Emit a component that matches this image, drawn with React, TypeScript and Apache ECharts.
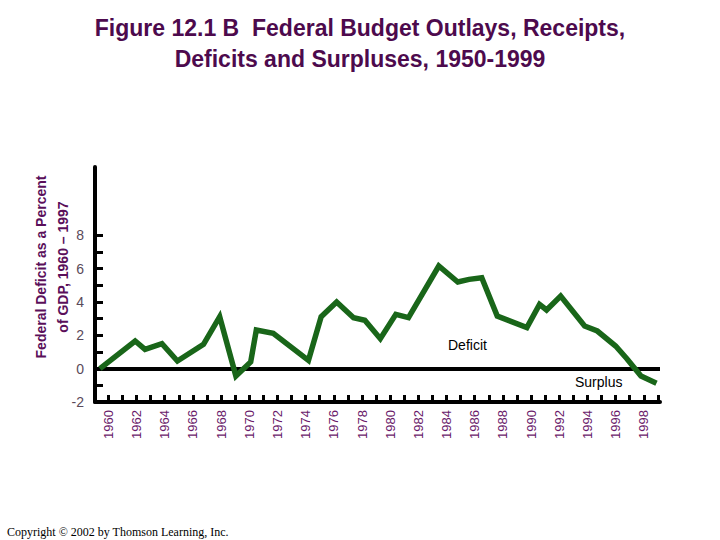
import React, { useEffect, useRef } from "react";
import * as echarts from "echarts";

// Line vertices: [year position, deficit % of GDP]
const pointYears = [
  1959.4, 1961.9, 1962.6, 1963.8, 1964.9, 1966.75, 1967.9, 1969.05, 1970.1,
  1970.5, 1971.7, 1974.2, 1975.1, 1976.2, 1977.4, 1978.2, 1979.3, 1980.4,
  1981.3, 1983.45, 1984.8, 1985.6, 1986.5, 1987.6, 1989.7, 1990.6, 1991.1,
  1992.1, 1993.8, 1994.7, 1996.0, 1996.8, 1997.8, 1998.9,
];
const deficitValues = [
  0.0, 1.66, 1.16, 1.5, 0.46, 1.46, 3.12, -0.44, 0.4,
  2.32, 2.12, 0.5, 3.12, 4.0, 3.06, 2.9, 1.8, 3.26,
  3.06, 6.16, 5.2, 5.36, 5.46, 3.16, 2.46, 3.86, 3.52,
  4.36, 2.56, 2.26, 1.36, 0.6, -0.44, -0.88,
];
const tickYears = [
  1960, 1961, 1962, 1963, 1964, 1965, 1966, 1967, 1968, 1969,
  1970, 1971, 1972, 1973, 1974, 1975, 1976, 1977, 1978, 1979,
  1980, 1981, 1982, 1983, 1984, 1985, 1986, 1987, 1988, 1989,
  1990, 1991, 1992, 1993, 1994, 1995, 1996, 1997, 1998, 1999,
];
const labelYears = [
  1960, 1962, 1964, 1966, 1968, 1970, 1972, 1974, 1976, 1978,
  1980, 1982, 1984, 1986, 1988, 1990, 1992, 1994, 1996, 1998,
];
const yTickValues = [-2, -1, 0, 1, 2, 3, 4, 5, 6, 7, 8];
const yLabelValues = [-2, 0, 2, 4, 6, 8];

const titleText =
  "Figure 12.1 B  Federal Budget Outlays, Receipts,\nDeficits and Surpluses, 1950-1999";
const yAxisTitle = "Federal Deficit as a Percent\nof GDP, 1960 \u2013 1997";
const deficitLabel = "Deficit";
const surplusLabel = "Surplus";
const copyrightText = "Copyright \u00a9 2002 by Thomson Learning, Inc.";

const SANS = "'Liberation Sans', Arial, sans-serif";
const SERIF = "'Liberation Serif', 'Times New Roman', serif";

export default function App() {
  const ref = useRef<HTMLDivElement>(null);

  useEffect(() => {
    if (!ref.current) return;
    const chart = echarts.init(ref.current, null, { renderer: "svg" });
    const data = pointYears.map((x, i) => [x, deficitValues[i]]);

    chart.setOption({
      animation: false,
      backgroundColor: "#ffffff",
      grid: { left: 95, right: 60, top: 167, bottom: 138, containLabel: false },
      xAxis: {
        type: "value",
        min: 1959.05,
        max: 1999.15,
        axisLine: { show: true, onZero: false, lineStyle: { color: "#000", width: 4 } },
        axisTick: {
          show: true,
          inside: true,
          length: 7,
          customValues: tickYears,
          lineStyle: { color: "#000", width: 3 },
        },
        axisLabel: {
          customValues: labelYears,
          rotate: 90,
          margin: 8,
          fontFamily: SANS,
          fontSize: 13,
          color: "#6a1a6a",
          formatter: (v: number) => String(v),
        },
        splitLine: { show: false },
      },
      yAxis: {
        type: "value",
        min: -2,
        max: 12.1,
        axisLine: { show: true, lineStyle: { color: "#000", width: 4 } },
        axisTick: {
          show: true,
          inside: true,
          length: 8,
          customValues: yTickValues,
          lineStyle: { color: "#000", width: 3 },
        },
        axisLabel: {
          customValues: yLabelValues,
          margin: 11,
          fontFamily: SANS,
          fontSize: 14,
          color: "#5a4a5a",
        },
        splitLine: { show: false },
      },
      series: [
        {
          type: "line",
          data,
          showSymbol: false,
          symbol: "none",
          lineStyle: { color: "#196619", width: 5.5, join: "miter" },
          z: 3,
          markLine: {
            silent: true,
            symbol: "none",
            label: { show: false },
            lineStyle: { color: "#000", width: 4, type: "solid" },
            data: [{ yAxis: 0 }],
            z: 2,
          },
        },
      ],
      graphic: [
        {
          type: "text",
          x: 360,
          y: 12,
          style: {
            text: titleText,
            font: `bold 23px ${SANS}`,
            fill: "#4d0a4d",
            textAlign: "center",
            textVerticalAlign: "top",
            lineHeight: 31,
          },
        },
        {
          type: "text",
          x: 52,
          y: 267,
          rotation: Math.PI / 2,
          style: {
            text: yAxisTitle,
            font: `bold 14px ${SANS}`,
            fill: "#5a0f5a",
            textAlign: "center",
            textVerticalAlign: "middle",
            lineHeight: 22,
          },
        },
        {
          type: "text",
          x: 448,
          y: 345,
          style: {
            text: deficitLabel,
            font: `14px ${SANS}`,
            fill: "#000",
            textAlign: "left",
            textVerticalAlign: "middle",
          },
        },
        {
          type: "text",
          x: 575,
          y: 382,
          style: {
            text: surplusLabel,
            font: `14px ${SANS}`,
            fill: "#000",
            textAlign: "left",
            textVerticalAlign: "middle",
          },
        },
        {
          type: "text",
          x: 7,
          y: 532,
          style: {
            text: copyrightText,
            font: `12px ${SERIF}`,
            fill: "#000",
            textAlign: "left",
            textVerticalAlign: "middle",
          },
        },
      ],
    });

    return () => chart.dispose();
  }, []);

  return (
    <div
      ref={ref}
      style={{ width: 720, height: 540, position: "absolute", left: 0, top: 0 }}
    />
  );
}
